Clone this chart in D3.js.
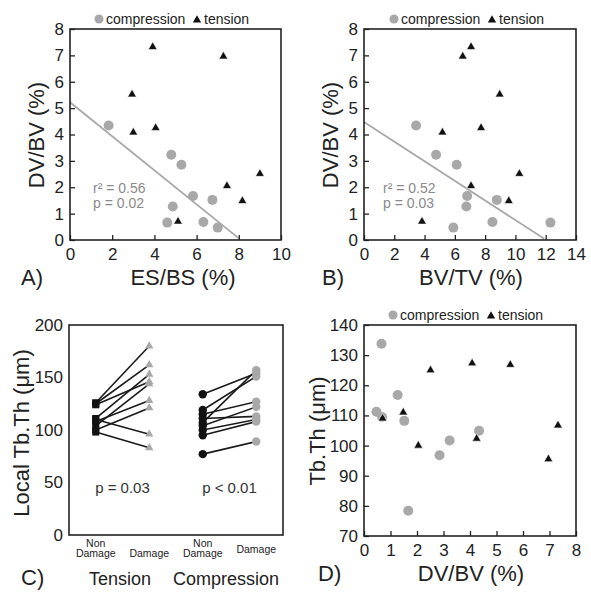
<!DOCTYPE html>
<html><head><meta charset="utf-8">
<script src="https://cdn.jsdelivr.net/npm/d3@7"></script>
<style>body{margin:0;background:#fff}svg{display:block}text{font-family:"Liberation Sans",Arial,sans-serif}</style>
</head><body>
<svg id="c" width="591" height="600"></svg>
<script>
// ---- data ----
const dvbvComp = [4.34, 3.23, 2.85, 1.67, 1.52, 1.27, 0.68, 0.66, 0.47];
const dvbvTens = [7.32, 6.96, 5.52, 4.25, 4.08, 2.51, 2.05, 1.48, 0.70];
const esbsComp = [1.83, 4.80, 5.28, 5.83, 6.75, 4.87, 6.32, 4.61, 7.00];
const esbsTens = [3.92, 7.27, 2.94, 4.06, 3.00, 9.00, 7.44, 8.17, 5.12];
const bvtvComp = [3.44, 4.76, 6.12, 6.81, 8.77, 6.76, 8.48, 12.31, 5.90];
const bvtvTens = [7.07, 6.52, 8.96, 7.73, 5.18, 10.26, 7.07, 9.56, 3.83];
const tbthComp = [104.9, 101.7, 96.8, 78.4, 108.2, 116.8, 109.5, 133.8, 111.2];
const tbthTens = [106.7, 95.5, 126.8, 102.3, 127.3, 125.0, 100.0, 111.0, 109.0];
const fitA_x = [0, 8.0], fitA_y = [5.22, 0.06];
const fitB_x = [0, 11.9], fitB_y = [4.47, 0.05];
const tensNonDamage = [126, 125, 124, 111, 108, 104, 100, 110, 98];
const tensDamage    = [180, 162, 146, 153, 128, 144, 121, 96, 83];
const compNonDamage = [134, 119, 115, 111, 107, 104, 100, 95, 77];
const compDamage    = [154, 151, 127, 113, 157, 122, 110, 108, 89];
const cCategories = ["tND", "tD", "cND", "cD"];
const cCatLabels = [["Non", "Damage"], ["Damage"], ["Non", "Damage"], ["Damage"]];
const cGroups = ["Tension", "Compression"];
const ticksA_x = [0, 2, 4, 6, 8, 10], ticksA_y = [0, 1, 2, 3, 4, 5, 6, 7, 8];
const ticksB_x = [0, 2, 4, 6, 8, 10, 12, 14];
const ticksC_y = [0, 50, 100, 150, 200];
const ticksD_x = [0, 1, 2, 3, 4, 5, 6, 7, 8], ticksD_y = [70, 80, 90, 100, 110, 120, 130, 140];

const svg = d3.select("#c");
const GRAY = "#a8a8a8", INK = "#222";
const tri = d3.symbol().type(d3.symbolTriangle).size(34);

function frame(g, x0, y0, x1, y1) {
  g.append("rect").attr("x", x0).attr("y", y0).attr("width", x1 - x0).attr("height", y1 - y0)
    .attr("fill", "none").attr("stroke", INK).attr("stroke-width", 1.6);
}
function axes(g, xs, ys, xt, yt, x0, y0, x1, y1) {
  const ax = g.append("g").attr("transform", `translate(0,${y1})`)
    .call(d3.axisBottom(xs).tickValues(xt).tickSize(-5).tickPadding(8).tickFormat(d3.format("d")));
  const ay = g.append("g").attr("transform", `translate(${x0},0)`)
    .call(d3.axisLeft(ys).tickValues(yt).tickSize(-5).tickPadding(6).tickFormat(d3.format("d")));
  [ax, ay].forEach(a => {
    a.select(".domain").remove();
    a.selectAll("line").attr("stroke", INK).attr("stroke-width", 1.3);
    a.selectAll("text").attr("font-size", 17).attr("fill", INK);
  });
  ax.selectAll("text").attr("dy", "0.71em");
}
function legend(g, cx, cy) {
  g.append("circle").attr("cx", cx).attr("cy", cy).attr("r", 4.5).attr("fill", GRAY);
  g.append("text").attr("x", cx + 7).attr("y", cy + 5).attr("font-size", 14).attr("fill", INK).text("compression");
  g.append("path").attr("d", d3.symbol().type(d3.symbolTriangle).size(30)())
    .attr("transform", `translate(${cx + 98},${cy + 1})`).attr("fill", "#111");
  g.append("text").attr("x", cx + 105).attr("y", cy + 5).attr("font-size", 14).attr("fill", INK).text("tension");
}
function title(g, txt, x, y, rot) {
  const t = g.append("text").attr("font-size", 22).attr("fill", INK).attr("text-anchor", "middle").text(txt);
  if (rot) t.attr("transform", `translate(${x},${y}) rotate(-90)`); else t.attr("x", x).attr("y", y);
}
function panelLabel(g, txt, x, y) {
  g.append("text").attr("x", x).attr("y", y).attr("font-size", 22).attr("fill", INK).text(txt);
}
function scatter(g, xs, ys, cx, cy, tx, ty) {
  g.selectAll(null).data(d3.range(cx.length)).enter().append("circle")
    .attr("cx", i => xs(cx[i])).attr("cy", i => ys(cy[i])).attr("r", 5).attr("fill", GRAY);
  g.selectAll(null).data(d3.range(tx.length)).enter().append("path")
    .attr("d", tri()).attr("transform", i => `translate(${xs(tx[i])},${ys(ty[i])})`)
    .attr("fill", "#111").attr("stroke", "#fff").attr("stroke-width", 0.6);
}
function fitLine(g, xs, ys, fx, fy) {
  g.append("line").attr("x1", xs(fx[0])).attr("y1", ys(fy[0])).attr("x2", xs(fx[1])).attr("y2", ys(fy[1]))
    .attr("stroke", GRAY).attr("stroke-width", 1.8);
}
function stats(g, x, y, l1, l2) {
  g.append("text").attr("x", x).attr("y", y).attr("font-size", 14).attr("fill", "#8a8a8a").text(l1);
  g.append("text").attr("x", x).attr("y", y + 15).attr("font-size", 14).attr("fill", "#8a8a8a").text(l2);
}

// ---- Panel A ----
{
  const g = svg.append("g");
  const x0 = 70, x1 = 281, y0 = 29, y1 = 240;
  const xs = d3.scaleLinear().domain([0, 10]).range([x0, x1]);
  const ys = d3.scaleLinear().domain([0, 8]).range([y1, y0]);
  fitLine(g, xs, ys, fitA_x, fitA_y);
  scatter(g, xs, ys, esbsComp, dvbvComp, esbsTens, dvbvTens);
  axes(g, xs, ys, ticksA_x, ticksA_y, x0, y0, x1, y1);
  frame(g, x0, y0, x1, y1);
  legend(g, 99, 19);
  stats(g, 93, 193, "r² = 0.56", "p = 0.02");
  title(g, "DV/BV (%)", 44, 135, true);
  title(g, "ES/BS (%)", 183, 285, false);
  panelLabel(g, "A)", 21, 285);
}
// ---- Panel B ----
{
  const g = svg.append("g");
  const x0 = 364, x1 = 576, y0 = 29, y1 = 240;
  const xs = d3.scaleLinear().domain([0, 14]).range([x0, x1]);
  const ys = d3.scaleLinear().domain([0, 8]).range([y1, y0]);
  fitLine(g, xs, ys, fitB_x, fitB_y);
  scatter(g, xs, ys, bvtvComp, dvbvComp, bvtvTens, dvbvTens);
  axes(g, xs, ys, ticksB_x, ticksA_y, x0, y0, x1, y1);
  frame(g, x0, y0, x1, y1);
  legend(g, 394, 19);
  stats(g, 383, 193, "r² = 0.52", "p = 0.03");
  title(g, "DV/BV (%)", 338, 135, true);
  title(g, "BV/TV (%)", 471, 285, false);
  panelLabel(g, "B)", 322, 285);
}
// ---- Panel C ----
{
  const g = svg.append("g");
  const x0 = 69, x1 = 283, y0 = 325, y1 = 535;
  const xs = d3.scalePoint().domain(cCategories).range([x0, x1]).padding(0.5);
  const ys = d3.scaleLinear().domain([0, 200]).range([y1, y0]);
  const pairs = [[tensNonDamage, tensDamage, "tND", "tD"], [compNonDamage, compDamage, "cND", "cD"]];
  pairs.forEach(([a, b, ka, kb]) => {
    g.selectAll(null).data(d3.range(a.length)).enter().append("line")
      .attr("x1", xs(ka)).attr("y1", i => ys(a[i])).attr("x2", xs(kb)).attr("y2", i => ys(b[i]))
      .attr("stroke", "#1a1a1a").attr("stroke-width", 1.6);
  });
  g.selectAll(null).data(tensNonDamage).enter().append("rect")
    .attr("x", xs("tND") - 3.5).attr("y", d => ys(d) - 3.5).attr("width", 7).attr("height", 7).attr("fill", "#111");
  g.selectAll(null).data(tensDamage).enter().append("path")
    .attr("d", d3.symbol().type(d3.symbolTriangle).size(30)()).attr("transform", d => `translate(${xs("tD")},${ys(d)})`).attr("fill", GRAY);
  g.selectAll(null).data(compNonDamage).enter().append("circle")
    .attr("cx", xs("cND")).attr("cy", d => ys(d)).attr("r", 4.2).attr("fill", "#111");
  g.selectAll(null).data(compDamage).enter().append("circle")
    .attr("cx", xs("cD")).attr("cy", d => ys(d)).attr("r", 4.2).attr("fill", GRAY);
  const ay = g.append("g").attr("transform", `translate(${x0},0)`)
    .call(d3.axisLeft(ys).tickValues(ticksC_y).tickSize(0).tickPadding(6));
  ay.select(".domain").remove();
  ay.selectAll("text").attr("font-size", 17).attr("fill", INK);
  frame(g, x0, y0, x1, y1);
  cCategories.forEach((k, i) => {
    const lines = cCatLabels[i];
    const t = g.append("text").attr("text-anchor", "middle").attr("font-size", 10.5).attr("fill", INK);
    const base = (k === "cD") ? 553 : 557;
    if (lines.length === 2) {
      t.append("tspan").attr("x", xs(k)).attr("y", base - 10.5).text(lines[0]);
      t.append("tspan").attr("x", xs(k)).attr("y", base).text(lines[1]);
    } else {
      t.append("tspan").attr("x", xs(k)).attr("y", base).text(lines[0]);
    }
  });
  g.append("text").attr("x", 120).attr("y", 585).attr("text-anchor", "middle")
    .attr("font-size", 18).attr("fill", INK).text(cGroups[0]);
  g.append("text").attr("x", 226).attr("y", 585).attr("text-anchor", "middle")
    .attr("font-size", 18).attr("fill", INK).text(cGroups[1]);
  g.append("text").attr("x", (xs("tND") + xs("tD")) / 2).attr("y", 493).attr("text-anchor", "middle")
    .attr("font-size", 15).attr("fill", "#333").text("p = 0.03");
  g.append("text").attr("x", (xs("cND") + xs("cD")) / 2).attr("y", 493).attr("text-anchor", "middle")
    .attr("font-size", 15).attr("fill", "#333").text("p < 0.01");
  title(g, "Local Tb.Th (μm)", 29, 433, true);
  panelLabel(g, "C)", 21, 585);
}
// ---- Panel D ----
{
  const g = svg.append("g");
  const x0 = 364, x1 = 576, y0 = 325, y1 = 536;
  const xs = d3.scaleLinear().domain([0, 8]).range([x0, x1]);
  const ys = d3.scaleLinear().domain([70, 140]).range([y1, y0]);
  scatter(g, xs, ys, dvbvComp, tbthComp, dvbvTens, tbthTens);
  axes(g, xs, ys, ticksD_x, ticksD_y, x0, y0, x1, y1);
  frame(g, x0, y0, x1, y1);
  legend(g, 393, 315);
  title(g, "Tb.Th (μm)", 325, 431, true);
  title(g, "DV/BV (%)", 471, 581, false);
  panelLabel(g, "D)", 318, 581);
}
</script>
</body></html>
